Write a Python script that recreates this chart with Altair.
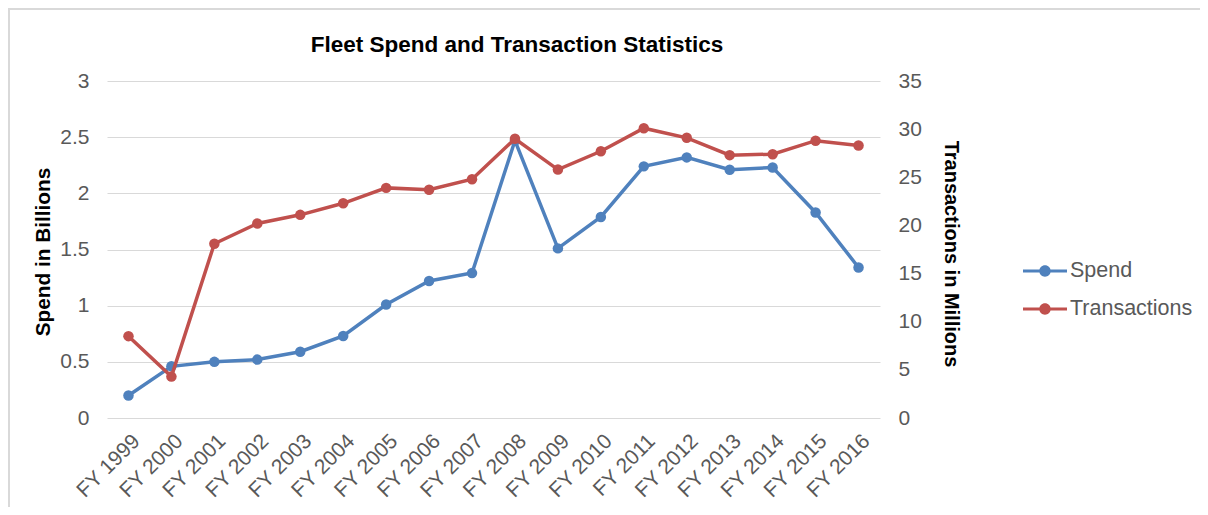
import altair as alt
import pandas as pd

years = ["FY 1999", "FY 2000", "FY 2001", "FY 2002", "FY 2003", "FY 2004",
         "FY 2005", "FY 2006", "FY 2007", "FY 2008", "FY 2009", "FY 2010",
         "FY 2011", "FY 2012", "FY 2013", "FY 2014", "FY 2015", "FY 2016"]
spend = [0.20, 0.46, 0.50, 0.52, 0.59, 0.73, 1.01, 1.22, 1.29, 2.47,
         1.51, 1.79, 2.24, 2.32, 2.21, 2.23, 1.83, 1.34]
transactions = [8.5, 4.3, 18.1, 20.2, 21.1, 22.3, 23.9, 23.7, 24.8, 29.0,
                25.8, 27.7, 30.1, 29.1, 27.3, 27.4, 28.8, 28.3]
series_names = ["Spend", "Transactions"]
series_colors = ["#4F81BD", "#C0504D"]
chart_title = "Fleet Spend and Transaction Statistics"

rows = []
for y, v in zip(years, spend):
    rows.append({"year": y, "series": "Spend", "value": v})
for y, v in zip(years, transactions):
    rows.append({"year": y, "series": "Transactions", "value": v})
df = pd.DataFrame(rows)

FONT = "Liberation Sans"
LABEL_COLOR = "#595959"
PLOT_W, PLOT_H = 773, 337
PAD_L, PAD_T = 99, 73
TOTAL_W, TOTAL_H = 1192, 499

legend_path = ("M-1,-0.07H1V0.07H-1Z "
               "M-0.26,0A0.26,0.26,0,1,1,0.26,0A0.26,0.26,0,1,1,-0.26,0Z")

color = alt.Color(
    "series:N",
    scale=alt.Scale(domain=series_names, range=series_colors),
    legend=alt.Legend(
        title=None, orient="none", legendX=916, legendY=168,
        symbolType=legend_path, symbolSize=1936, symbolStrokeWidth=0,
        labelFont=FONT, labelFontSize=21.5, labelColor=LABEL_COLOR,
        labelOffset=3, rowPadding=5, padding=0,
    ),
)

x = alt.X(
    "year:N", sort=years, title=None,
    axis=alt.Axis(labelAngle=-45, labelAlign="right", labelBaseline="top",
                  labelPadding=12, labelFont=FONT, labelFontSize=21,
                  labelColor=LABEL_COLOR, ticks=False, domain=False, grid=False,
                  labelOverlap=False),
)

base = alt.Chart(df).encode(x=x, color=color)

y_left = alt.Y(
    "value:Q", title="Spend in Billions",
    scale=alt.Scale(domain=[0, 3], nice=False),
    axis=alt.Axis(orient="left", values=[0, 0.5, 1, 1.5, 2, 2.5, 3], format="~g",
                  labelFont=FONT, labelFontSize=21, labelColor=LABEL_COLOR,
                  labelPadding=18, ticks=False, domain=False, grid=True,
                  gridColor="#D9D9D9", gridWidth=1.2,
                  titleFont=FONT, titleFontSize=20.8, titleFontWeight="bold",
                  titleColor="#000000", titleX=-64, titleY=PLOT_H / 2 + 2,
                  titleAngle=270, titleBaseline="middle", titleAlign="center"),
)
y_right = alt.Y(
    "value:Q", title="Transactions in Millions",
    scale=alt.Scale(domain=[0, 35], nice=False),
    axis=alt.Axis(orient="right", values=[0, 5, 10, 15, 20, 25, 30, 35],
                  labelFont=FONT, labelFontSize=21, labelColor=LABEL_COLOR,
                  labelPadding=18, ticks=False, domain=False, grid=False,
                  titleFont=FONT, titleFontSize=20, titleFontWeight="bold",
                  titleColor="#000000", titleX=70, titleY=PLOT_H / 2 + 4,
                  titleAngle=90, titleBaseline="middle", titleAlign="center"),
)

spend_base = base.transform_filter(alt.datum.series == "Spend").encode(y=y_left)
trans_base = base.transform_filter(alt.datum.series == "Transactions").encode(y=y_right)

spend_layer = alt.layer(
    spend_base.mark_line(strokeWidth=3.5),
    spend_base.mark_point(filled=True, size=110, opacity=1),
)
trans_layer = alt.layer(
    trans_base.mark_line(strokeWidth=3.5),
    trans_base.mark_point(filled=True, size=110, opacity=1),
)

one_df = pd.DataFrame({"t": [chart_title]})
title_mark = alt.Chart(one_df).mark_text(
    font=FONT, fontSize=22.5, fontWeight="bold", color="#000000",
    align="center", baseline="alphabetic",
).encode(x=alt.value(410), y=alt.value(-29), text="t:N")

top_border = alt.Chart(one_df).mark_rule(color="#D9D9D9", strokeWidth=2).encode(
    x=alt.value(-PAD_L), x2=alt.value(TOTAL_W - PAD_L), y=alt.value(-PAD_T + 1))
left_border = alt.Chart(one_df).mark_rule(color="#D9D9D9", strokeWidth=2).encode(
    x=alt.value(-PAD_L + 1), y=alt.value(-PAD_T), y2=alt.value(TOTAL_H - PAD_T))

chart = alt.layer(
    spend_layer, trans_layer, title_mark, top_border, left_border
).resolve_scale(
    y="independent"
).properties(
    width=PLOT_W, height=PLOT_H,
    autosize=alt.AutoSizeParams(type="none"),
    padding={"left": PAD_L, "top": PAD_T, "right": TOTAL_W - PAD_L - PLOT_W,
             "bottom": TOTAL_H - PAD_T - PLOT_H},
    background="white",
).configure_view(stroke=None)

chart.save("out.html", embed_options={"renderer": "svg", "actions": False})
